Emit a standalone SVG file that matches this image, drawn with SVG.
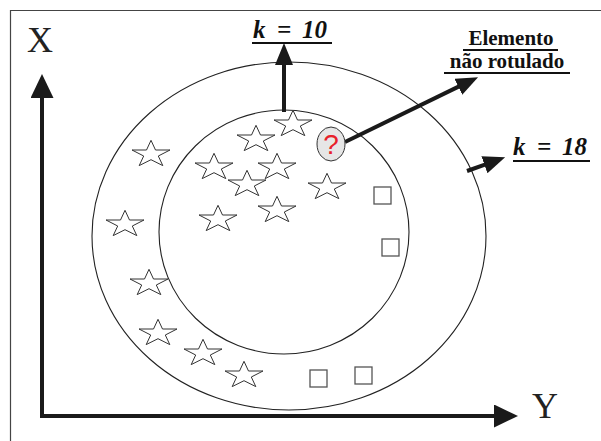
<svg xmlns="http://www.w3.org/2000/svg" xmlns:xlink="http://www.w3.org/1999/xlink" width="601" height="441" viewBox="0 0 601 441">
<style>
.ring{fill:none;stroke:#222;stroke-width:1.1}
.star{fill:#fff;stroke:#333;stroke-width:1}
.sq{fill:#fff;stroke:#555;stroke-width:1.3}
.conn{stroke:#1a1a1a;fill:none}
.ax{font-family:"Liberation Serif","DejaVu Serif",serif;font-size:36px;fill:#222}
.k{font-family:"Liberation Serif","DejaVu Serif",serif;font-size:25px;font-weight:bold;font-style:italic;fill:#111}
.lbl{font-family:"Liberation Serif","DejaVu Serif",serif;font-size:21px;font-weight:bold;fill:#111}
.ul{stroke:#111;stroke-width:2}
</style>
<defs>
<path id="star" d="M0,-12.7 L4.5,-3 L19,-3 L7.3,3 L11.8,12.6 L0,6.7 L-11.8,12.6 L-7.3,3 L-19,-3 L-4.5,-3 Z"/>
<marker id="big" markerUnits="userSpaceOnUse" markerWidth="26" markerHeight="24" refX="2" refY="11.5" orient="auto"><path d="M0,0 L24,11.5 L0,23 Z" fill="#1a1a1a"/></marker>
<marker id="sm" markerUnits="userSpaceOnUse" markerWidth="24" markerHeight="20" refX="2" refY="9" orient="auto"><path d="M0,0 L22,9 L0,18 Z" fill="#1a1a1a"/></marker>
</defs>
<rect width="601" height="441" fill="#fff"/>
<path d="M10.5,441 V10.5 H601" fill="none" stroke="#444" stroke-width="1.2"/>
<g id="rings">
<ellipse id="outer" class="ring" cx="289" cy="236" rx="197" ry="174"/>
<ellipse id="inner" class="ring" cx="284" cy="232" rx="125" ry="122"/>
</g>
<g id="stars" class="star">
<use xlink:href="#star" x="293" y="123"/>
<use xlink:href="#star" x="256" y="138"/>
<use xlink:href="#star" x="214" y="166"/>
<use xlink:href="#star" x="277" y="166"/>
<use xlink:href="#star" x="247" y="183"/>
<use xlink:href="#star" x="327" y="186"/>
<use xlink:href="#star" x="277" y="209"/>
<use xlink:href="#star" x="218" y="218"/>
<use xlink:href="#star" x="151" y="153"/>
<use xlink:href="#star" x="125" y="223"/>
<use xlink:href="#star" x="149" y="282"/>
<use xlink:href="#star" x="158" y="332"/>
<use xlink:href="#star" x="203" y="352"/>
<use xlink:href="#star" x="244" y="374"/>
</g>
<g id="squares" class="sq">
<rect x="374" y="187" width="17" height="17"/>
<rect x="382" y="239" width="17" height="17"/>
<rect x="310" y="370" width="17" height="17"/>
<rect x="355" y="367" width="17" height="17"/>
</g>
<g id="connectors" class="conn">
<line x1="42" y1="418" x2="42" y2="96" stroke-width="4" marker-end="url(#big)"/>
<line x1="40" y1="416" x2="496" y2="416" stroke-width="4" marker-end="url(#big)"/>
<line x1="284" y1="112" x2="284" y2="63" stroke-width="4" marker-end="url(#sm)"/>
<line x1="345" y1="142" x2="460.1" y2="85.9" stroke-width="4" marker-end="url(#sm)"/>
<line x1="467" y1="171" x2="486.3" y2="164.1" stroke-width="4" marker-end="url(#sm)"/>
</g>
<g id="unlabeled">
<ellipse cx="331" cy="144" rx="14" ry="17" fill="#e6e6e6" stroke="#333" stroke-width="1"/>
<text x="331" y="154" text-anchor="middle" font-family="Liberation Sans, sans-serif" font-size="28" fill="#e8202a">?</text>
</g>
<g id="axis-x"><text class="ax" x="27" y="52">X</text></g>
<g id="axis-y"><text class="ax" x="532" y="418">Y</text></g>
<g id="k10">
<text class="k" y="38"><tspan x="253">k</tspan><tspan x="277">=</tspan><tspan x="302">10</tspan></text>
<line class="ul" x1="252" y1="43" x2="332" y2="43"/>
</g>
<g id="elemento">
<text class="lbl" x="511" y="45" text-anchor="middle">Elemento</text>
<line class="ul" x1="463" y1="50" x2="558" y2="50"/>
<text class="lbl" x="507" y="68" text-anchor="middle">não rotulado</text>
<line class="ul" x1="444" y1="73" x2="570" y2="73"/>
</g>
<g id="k18">
<text class="k" y="155"><tspan x="513">k</tspan><tspan x="537">=</tspan><tspan x="562">18</tspan></text>
<line class="ul" x1="513" y1="161" x2="590" y2="161"/>
</g>
</svg>
